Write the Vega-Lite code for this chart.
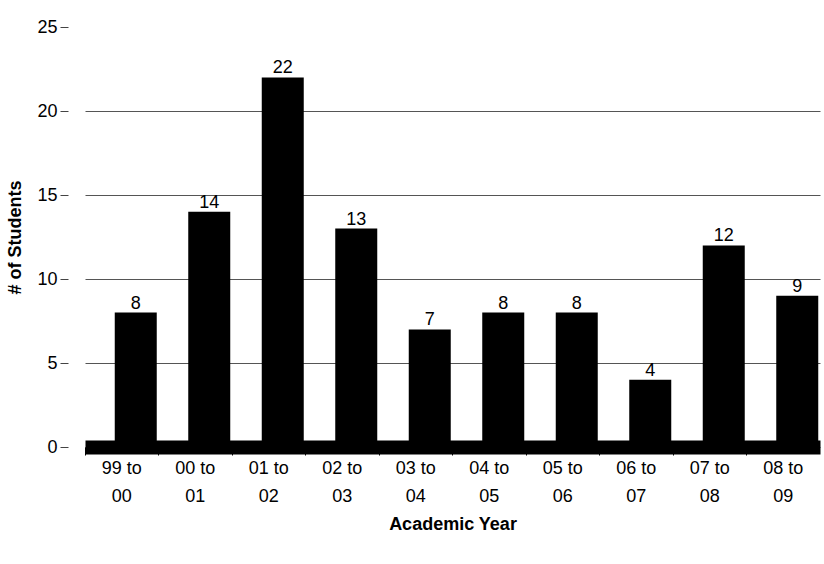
{
  "$schema": "https://vega.github.io/schema/vega-lite/v6.json",
  "width": 735,
  "height": 420,
  "autosize": {"type": "none"},
  "padding": {"left": 85, "top": 27, "right": 4, "bottom": 117},
  "background": "white",
  "config": {
    "view": {"stroke": null},
    "font": "Liberation Sans"
  },
  "data": {
    "values": [
      {"year": "99 to 00", "students": 8},
      {"year": "00 to 01", "students": 14},
      {"year": "01 to 02", "students": 22},
      {"year": "02 to 03", "students": 13},
      {"year": "03 to 04", "students": 7},
      {"year": "04 to 05", "students": 8},
      {"year": "05 to 06", "students": 8},
      {"year": "06 to 07", "students": 4},
      {"year": "07 to 08", "students": 12},
      {"year": "08 to 09", "students": 9}
    ]
  },
  "encoding": {
    "x": {
      "field": "year",
      "type": "nominal",
      "sort": null,
      "scale": {"paddingInner": 0, "paddingOuter": 0},
      "axis": {
        "title": "Academic Year",
        "titleFontSize": 18,
        "titleFontWeight": "bold",
        "titleColor": "black",
        "titlePadding": 10,
        "labelAngle": 0,
        "labelFontSize": 18,
        "labelColor": "black",
        "labelLineHeight": 28,
        "labelPadding": 4,
        "labelExpr": "[slice(datum.label,0,5), slice(datum.label,6)]",
        "bandPosition": 0,
        "tickSize": 8,
        "tickColor": "black",
        "domain": true,
        "domainColor": "black",
        "domainWidth": 14,
        "offset": 0
      }
    },
    "y": {
      "field": "students",
      "type": "quantitative",
      "scale": {"domain": [0, 25]},
      "axis": {
        "title": "# of Students",
        "titleFontSize": 18,
        "titleFontWeight": "bold",
        "titleColor": "black",
        "titlePadding": 12,
        "values": [0, 5, 10, 15, 20, 25],
        "labelFontSize": 18,
        "labelColor": "black",
        "labelPadding": 3,
        "tickSize": 8,
        "tickColor": "#444",
        "offset": 17,
        "domain": false,
        "grid": true,
        "gridColor": {"condition": {"test": "datum.value == 25", "value": "transparent"}, "value": "#555"},
        "gridWidth": 1
      }
    }
  },
  "layer": [
    {
      "mark": {"type": "bar", "color": "black", "width": 42, "xOffset": 14}
    },
    {
      "mark": {"type": "text", "fontSize": 18, "color": "black", "baseline": "bottom", "dy": 0, "xOffset": 14},
      "encoding": {"text": {"field": "students", "type": "quantitative"}}
    }
  ]
}
